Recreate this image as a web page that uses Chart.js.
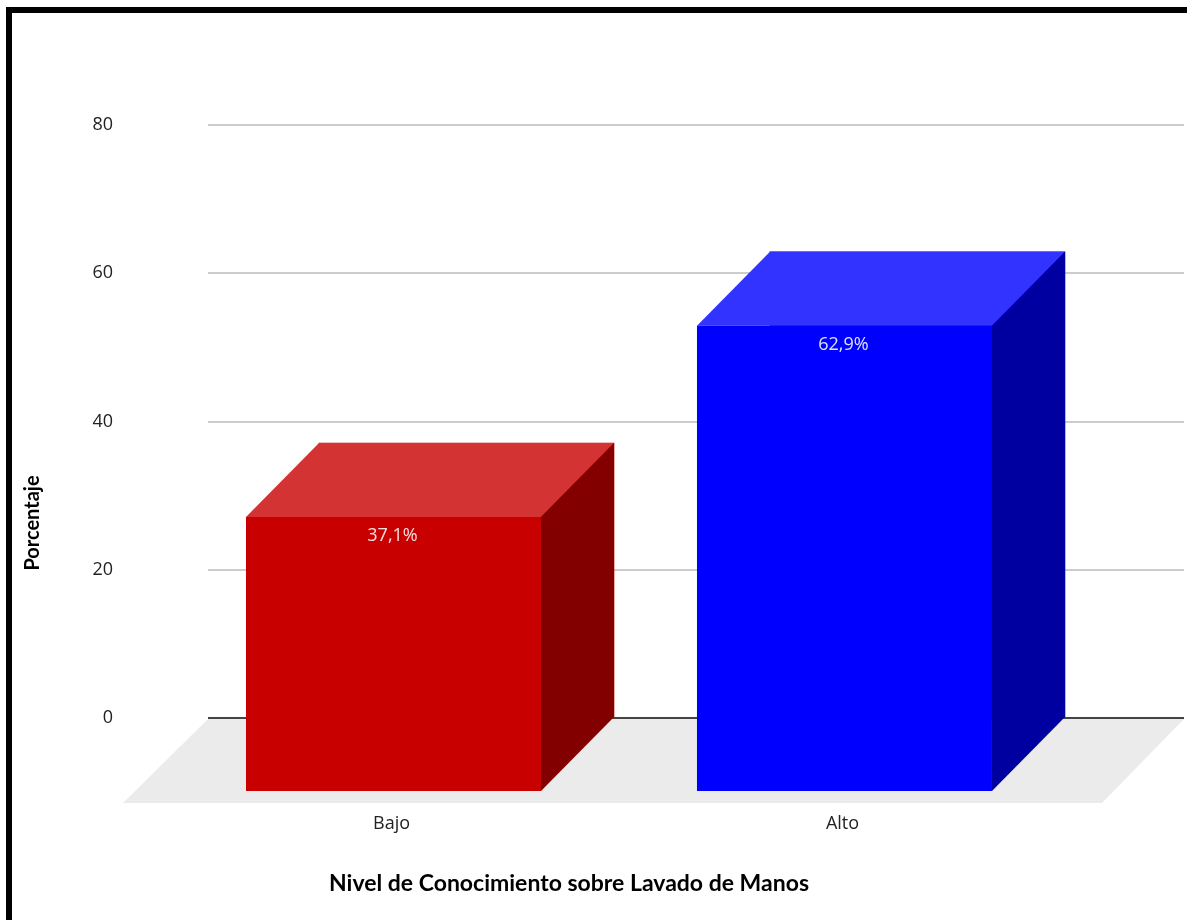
<!DOCTYPE html>
<html>
<head>
<meta charset="utf-8">
<title>Nivel de Conocimiento sobre Lavado de Manos</title>
<script src="https://cdn.jsdelivr.net/npm/chart.js@4"></script>
<style>
    html, body { margin: 0; padding: 0; background: #fff; overflow: hidden; }
    #frame {
        position: absolute; left: 6px; top: 7px; width: 1176px; height: 909px;
        border-style: solid; border-color: #000 #333 #333 #000;
        border-width: 6px 3px 2px 6px;
    }
    #chart { position: absolute; left: 0; top: 0; }
</style>
</head>
<body>
<div id="frame"></div>
<canvas id="chart" width="1187" height="920"></canvas>
<script>
const categories = ['Bajo', 'Alto'];
const values = [37.1, 62.9];
const yTicks = [0, 20, 40, 60, 80];
const xTitle = 'Nivel de Conocimiento sobre Lavado de Manos';
const yTitle = 'Porcentaje';

const frontColors = ['#c90000', '#0000ff'];
const topColors = ['#d33333', '#3333ff'];
const sideColors = ['#820000', '#0000a0'];

const depthX = 73;
const depthY = 74;
const labelFont = '18px "Open Sans"';

function poly(ctx, pts, color) {
    ctx.fillStyle = color;
    ctx.beginPath();
    pts.forEach((p, i) => i ? ctx.lineTo(p[0], p[1]) : ctx.moveTo(p[0], p[1]));
    ctx.closePath();
    ctx.fill();
}

// floor, box faces and the loose texts
const fake3d = {
    id: 'fake3d',
    beforeDraw(chart) {
        const a = chart.chartArea;
        poly(chart.ctx, [[a.left, a.bottom + 1], [a.right, a.bottom + 1], [a.right - 82, a.bottom + 85], [a.left - 85, a.bottom + 85]], '#ebebeb');
    },
    afterDatasetsDraw(chart) {
        const ctx = chart.ctx;
        chart.getDatasetMeta(0).data.forEach((bar, i) => {
            const l = bar.x - bar.width / 2, r = bar.x + bar.width / 2;
            const t = bar.y, b = bar.base;
            poly(ctx, [[l - depthX, t + depthY], [l, t], [r, t], [r - depthX, t + depthY]], topColors[i]);
            poly(ctx, [[r - depthX, t + depthY], [r, t], [r, b], [r - depthX, b + depthY]], sideColors[i]);
            poly(ctx, [[l - depthX, t + depthY], [r - depthX, t + depthY], [r - depthX, b + depthY], [l - depthX, b + depthY]], frontColors[i]);

            ctx.fillStyle = 'rgba(255,255,255,0.88)';
            ctx.font = labelFont;
            ctx.textAlign = 'center';
            ctx.textBaseline = 'middle';
            ctx.fillText(values[i].toFixed(1).replace('.', ',') + '%', bar.x - depthX - 1, t + depthY + 19);
        });
    },
    afterDraw(chart) {
        const ctx = chart.ctx;
        ctx.save();
        ctx.fillStyle = '#000';
        ctx.font = 'bold 23px Lato';
        ctx.textAlign = 'center';
        ctx.textBaseline = 'middle';
        ctx.fillText(xTitle, 569, 884);
        ctx.translate(33, 523);
        ctx.rotate(-Math.PI / 2);
        ctx.font = 'bold 20px Lato';
        ctx.fillText(yTitle, 0, 0);
        ctx.restore();
    }
};

const config = {
    type: 'bar',
    data: {
        datasets: [{
            data: categories.map((c, i) => ({ x: i + 1, y: values[i] })),
            backgroundColor: frontColors,
            barThickness: 295
        }]
    },
    options: {
        responsive: false,
        animation: false,
        layout: { autoPadding: false, padding: { top: 125, right: 3, left: 0, bottom: 0 } },
        plugins: { legend: { display: false }, tooltip: { enabled: false }, title: { display: false } },
        scales: {
            x: {
                type: 'linear',
                offset: false,
                min: 0.4268,
                max: 2.591,
                afterFit(scale) { scale.height = 202; },
                afterBuildTicks(scale) { scale.ticks = categories.map((c, i) => ({ value: i + 1 })); },
                grid: { display: false },
                border: { display: false },
                ticks: {
                    autoSkip: false,
                    maxRotation: 0,
                    labelOffset: -75,
                    padding: 87,
                    color: '#222',
                    font: { family: 'Open Sans', size: 18 },
                    callback: (v) => categories[v - 1]
                }
            },
            y: {
                min: yTicks[0],
                max: yTicks[yTicks.length - 1],
                afterFit(scale) { scale.width = 208; },
                afterBuildTicks(scale) { scale.ticks = yTicks.map((v) => ({ value: v })); },
                border: { display: false },
                grid: {
                    tickLength: 0,
                    lineWidth: 2,
                    color: (c) => c.tick.value === 0 ? '#444' : '#ccc'
                },
                ticks: {
                    padding: 95,
                    color: '#222',
                    font: { family: 'Open Sans', size: 18 }
                }
            }
        }
    },
    plugins: [fake3d]
};

new Chart(document.getElementById('chart').getContext('2d'), config);
</script>
</body>
</html>
